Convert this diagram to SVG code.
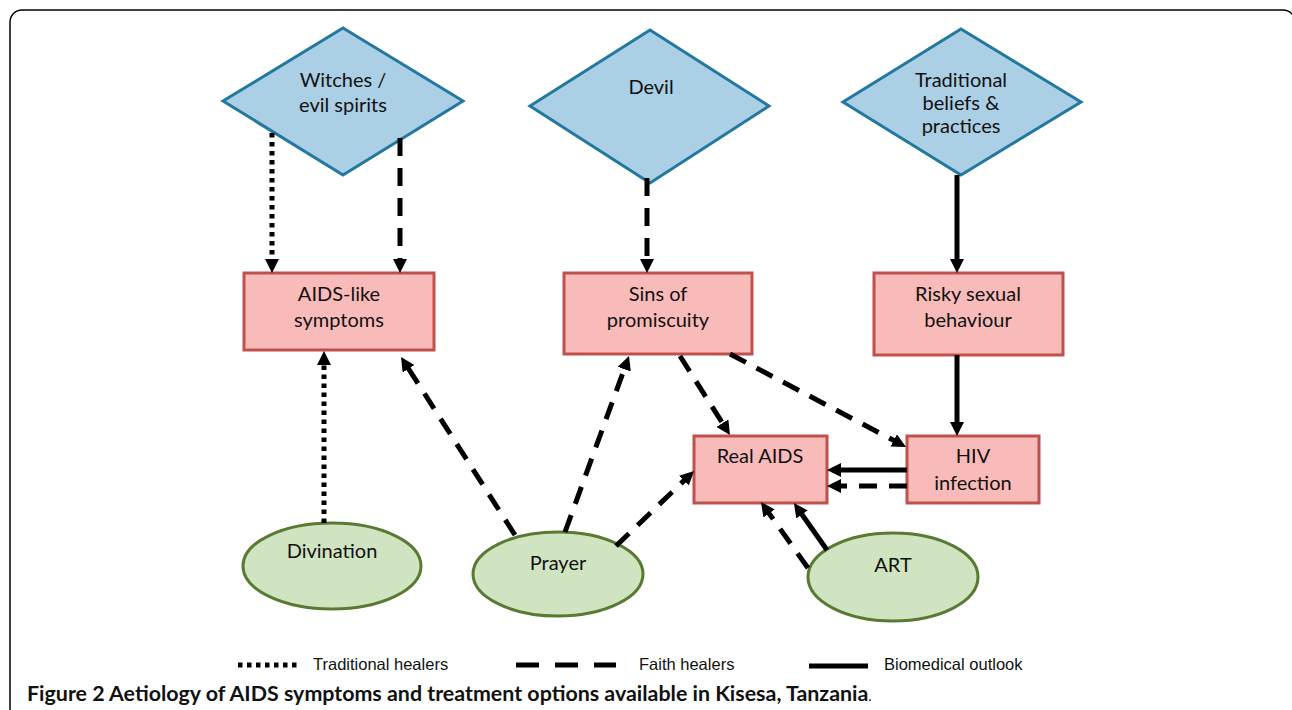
<svg xmlns="http://www.w3.org/2000/svg" width="1292" height="710" viewBox="0 0 1292 710">
<style>
.dia{fill:#abcfe5;stroke:#23789f;stroke-width:3}
.box{fill:#f9bbb9;stroke:#c0504d;stroke-width:3}
.ell{fill:#d1e4c1;stroke:#587a33;stroke-width:3}
.lbl{font-family:Lato,"Open Sans",sans-serif;font-size:20px;fill:#111;text-anchor:middle}
.c{fill:none;stroke:#000;stroke-width:5}
.dot{stroke-dasharray:4.5 4.5}
.dash{stroke-dasharray:18 12}
.leg{font-family:"Liberation Sans",Arial,sans-serif;font-size:16.5px;fill:#111}
.cap{font-family:Lato,"Open Sans",sans-serif;font-size:21.4px;font-weight:bold;fill:#111}
</style>
<defs>
<marker id="ah" viewBox="0 0 14 14" markerWidth="14" markerHeight="14" refX="4" refY="7" orient="auto" markerUnits="userSpaceOnUse">
<path d="M0,0 L14,7 L0,14 z" fill="#000"/>
</marker>
</defs>
<rect x="10" y="10" width="1285" height="720" rx="12" fill="none" stroke="#000" stroke-width="1.5"/>

<g id="witches"><polygon class="dia" points="343,28 463,101 343,175 223,101"/><text class="lbl" x="343" y="87">Witches /</text><text class="lbl" x="343" y="112">evil spirits</text></g>
<g id="devil"><polygon class="dia" points="650,30 769,106 650,183 530,106"/><text class="lbl" x="651" y="94">Devil</text></g>
<g id="traditional"><polygon class="dia" points="961,29 1081,102 961,175 843,102"/><text class="lbl" x="961" y="87">Traditional</text><text class="lbl" x="961" y="110">beliefs &amp;</text><text class="lbl" x="961" y="133">practices</text></g>

<g id="aidslike"><rect class="box" x="244" y="273" width="190" height="77"/><text class="lbl" x="339" y="301">AIDS-like</text><text class="lbl" x="339" y="327">symptoms</text></g>
<g id="sins"><rect class="box" x="564" y="273" width="188" height="81"/><text class="lbl" x="658" y="301">Sins of</text><text class="lbl" x="658" y="327">promiscuity</text></g>
<g id="risky"><rect class="box" x="874" y="273" width="189" height="82"/><text class="lbl" x="968" y="301">Risky sexual</text><text class="lbl" x="968" y="327">behaviour</text></g>
<g id="realaids"><rect class="box" x="694" y="436" width="133" height="67"/><text class="lbl" x="760" y="463">Real AIDS</text></g>
<g id="hiv"><rect class="box" x="907" y="436" width="132" height="67"/><text class="lbl" x="973" y="463">HIV</text><text class="lbl" x="973" y="490">infection</text></g>

<g id="divination"><ellipse class="ell" cx="332" cy="566" rx="89" ry="43"/><text class="lbl" x="332" y="558">Divination</text></g>
<g id="prayer"><ellipse class="ell" cx="558" cy="574" rx="85" ry="42"/><text class="lbl" x="558" y="570">Prayer</text></g>
<g id="art"><ellipse class="ell" cx="893" cy="577" rx="85" ry="44"/><text class="lbl" x="893" y="572">ART</text></g>

<g id="connectors">
<line class="c dot" x1="272" y1="133" x2="272" y2="263" marker-end="url(#ah)"/>
<line class="c dash" x1="400" y1="138" x2="400" y2="263" marker-end="url(#ah)"/>
<line class="c dash" x1="647" y1="178" x2="647" y2="263" marker-end="url(#ah)"/>
<line class="c" x1="957" y1="175" x2="957" y2="263" marker-end="url(#ah)"/>
<line class="c" x1="957" y1="355" x2="957" y2="426" marker-end="url(#ah)"/>
<line class="c" x1="907" y1="470" x2="837" y2="470" marker-end="url(#ah)"/>
<line class="c dash" x1="907" y1="486" x2="837" y2="486" marker-end="url(#ah)"/>
<line class="c dash" x1="680" y1="356" x2="724.6" y2="426.5" marker-end="url(#ah)"/>
<line class="c dash" x1="730" y1="354" x2="897.2" y2="442.3" marker-end="url(#ah)"/>
<line class="c dot" x1="324" y1="523" x2="324" y2="361" marker-end="url(#ah)"/>
<line class="c dash" x1="515" y1="535" x2="406.4" y2="365.4" marker-end="url(#ah)"/>
<line class="c dash" x1="565" y1="532" x2="625.6" y2="365.4" marker-end="url(#ah)"/>
<line class="c dash" x1="616" y1="546" x2="686.8" y2="477.9" marker-end="url(#ah)"/>
<line class="c dash" x1="808" y1="568" x2="766.8" y2="510.2" marker-end="url(#ah)"/>
<line class="c" x1="827" y1="550" x2="799.7" y2="511.2" marker-end="url(#ah)"/>
</g>

<g id="legend">
<line class="c dot" x1="238" y1="665" x2="300" y2="665"/>
<text class="leg" x="313" y="670">Traditional healers</text>
<line x1="516" y1="665" x2="616" y2="665" stroke="#000" stroke-width="5" stroke-dasharray="23 16"/>
<text class="leg" x="639" y="670">Faith healers</text>
<line x1="809" y1="666" x2="868" y2="666" stroke="#000" stroke-width="5"/>
<text class="leg" x="884" y="670">Biomedical outlook</text>
</g>
<text class="cap" x="27" y="701">Figure 2 Aetiology of AIDS symptoms and treatment options available in Kisesa, Tanzania<tspan font-weight="normal" font-size="14">.</tspan></text>
</svg>
